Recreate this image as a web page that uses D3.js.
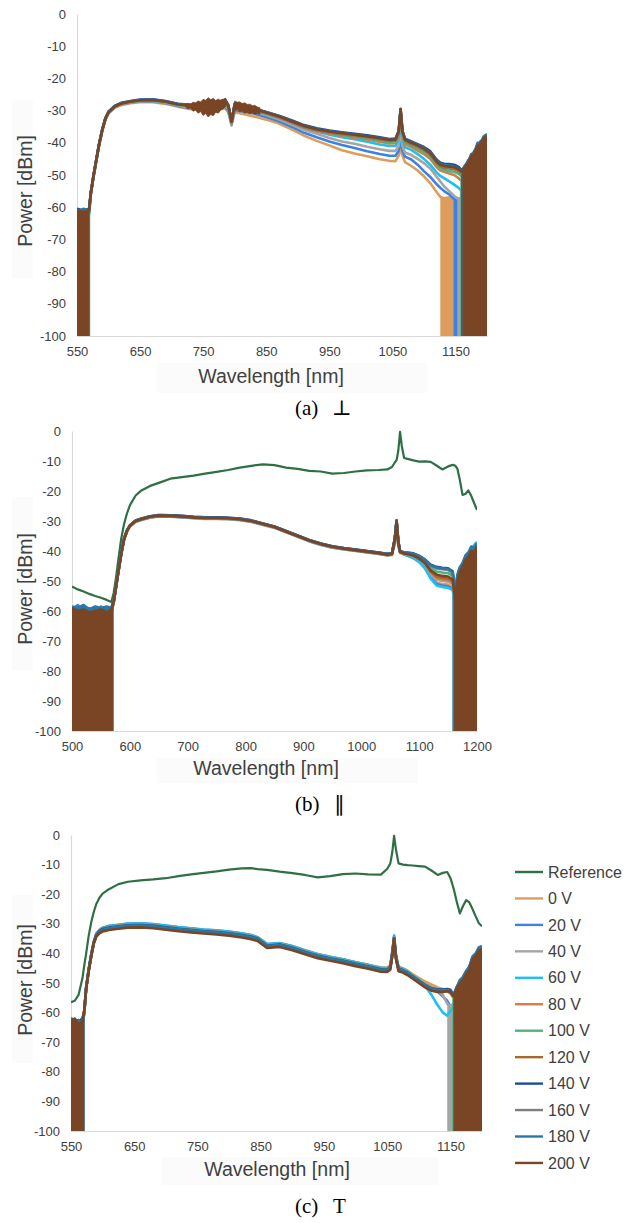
<!DOCTYPE html>
<html>
<head>
<meta charset="utf-8">
<script src="https://cdn.jsdelivr.net/npm/d3@7"></script>
<style>
  body { margin: 0; background: #fff; }
  svg { display: block; }
</style>
</head>
<body>
<svg id="chart" width="634" height="1223"></svg>
<script>
// ---------- series labels and colours ----------
const seriesNames = ["Reference", "0 V", "20 V", "40 V", "60 V", "80 V", "100 V",
                     "120 V", "140 V", "160 V", "180 V", "200 V"];
const seriesColors = ["#2e7044", "#dd9d5c", "#3b82e6", "#a5a5a5", "#1fbff0", "#d27d4c",
                      "#55b27a", "#a8682a", "#1f4c9a", "#7f7f7f", "#2a78a6", "#7a4525"];

// ---------- axis ticks ----------
const yTicks = [0, -10, -20, -30, -40, -50, -60, -70, -80, -90, -100];
const xTicksPerp = [550, 650, 750, 850, 950, 1050, 1150];
const xTicksPar = [500, 600, 700, 800, 900, 1000, 1100, 1200];
const xTicksT = [550, 650, 750, 850, 950, 1050, 1150];

// ---------- (a) perpendicular: wavelength grid [nm] and power [dBm], 0 V … 200 V ----------
const wlPerp = [550,560,569,572,576,580,585,590,595,600,610,620,635,650,670,690,710,730,750,770,785,790,795,800,810,830,850,870,890,910,930,950,970,990,1010,1030,1045,1055,1060,1063,1066,1070,1080,1090,1100,1110,1120,1126,1132,1140,1148,1155,1160,1165,1170,1175,1180,1185,1190,1195,1200];
const powerPerp = [
  [-61.5,-62,-61.5,-55.8,-50.8,-46.3,-40.8,-36.3,-32.9,-30.9,-29.1,-28.3,-27.7,-27.4,-27.4,-27.9,-28.8, -29.6,-29.7,-29.8,-29.3,-30.6,-34.6,-30.5,-30.9, -31.8,-32.8,-34.0,-35.8,-37.8,-39.4,-40.8,-42.3,-43.3,-44.2,-45.1,-45.6,-45.7,-44.0,-41.5,-44.0,-46.0,-47.2,-48.6,-50.4,-52.5,-55.3,-56.8,-57.2,-56.9,-57.1,-57.2,-57.5, -56,-54,-51,-49,-46,-44,-42,-40],
  [-62,-61,-62,-55.6,-50.6,-46.1,-40.6,-36.2,-32.7,-30.7,-28.9,-28.0,-27.5,-27.1,-27.1,-27.6,-28.6, -29.2,-29.2,-29.2,-28.8,-30.1,-34.2,-29.9,-30.2, -30.9,-32.0,-33.3,-35.0,-36.9,-38.3,-39.6,-40.7,-41.6,-42.6,-43.5,-44.0,-44.0,-42.5,-38.5,-42.5,-44.3,-45.2,-46.8,-48.8,-50.6,-52.8,-54.0,-55.0,-56.0,-57.5,-58.5,-58.5, -56,-53,-50,-47,-45,-42.5,-41,-40],
  [-61,-62,-61.5,-55.6,-50.7,-46.2,-40.7,-36.2,-32.7,-30.7,-28.9,-28.0,-27.4,-27.0,-27.0,-27.5,-28.5, -29.0,-29.0,-28.9,-28.4,-29.7,-34.0,-29.4,-29.7, -30.4,-31.4,-32.7,-34.3,-36.0,-37.2,-38.5,-39.6,-40.3,-41.2,-42.0,-42.5,-42.5,-41.0,-36.0,-41.0,-43.0,-43.8,-45.0,-46.3,-48.0,-50.5,-52.0,-53.5,-55.0,-56.5,-57.5,-57.5, -55.5,-52.5,-49.5,-46.5,-44.5,-42,-40.5,-39.5],
  [-61.5,-61,-62,-55.5,-50.6,-46.1,-40.6,-36.1,-32.6,-30.6,-28.8,-27.9,-27.3,-26.9,-26.9,-27.4,-28.3, -28.8,-28.7,-28.6,-28.0,-29.4,-33.8,-29.0,-29.3, -30.0,-31.0,-32.2,-33.8,-35.4,-36.4,-37.5,-38.3,-38.9,-39.7,-40.5,-41.0,-41.0,-39.0,-33.0,-39.0,-41.4,-42.2,-43.5,-45.0,-46.8,-49.2,-50.3,-51.0,-52.0,-53.0,-54.0,-55.0, -54,-51,-48,-45,-43,-40.5,-39,-37.5],
  [-61,-61.5,-61,-55.5,-50.5,-46,-40.5,-36.1,-32.6,-30.6,-28.8,-27.9,-27.3,-26.9,-26.8,-27.3,-28.2, -28.6,-28.5,-28.3,-27.7,-29.1,-33.7,-28.7,-29.0, -29.8,-30.9,-32.2,-33.8,-35.3,-36.4,-37.2,-37.8,-38.4,-39.0,-39.7,-40.2,-40.1,-38.0,-31.0,-38.0,-40.4,-41.3,-42.4,-43.5,-45.0,-47.5,-48.6,-49.0,-49.5,-50.0,-51.0,-52.0, -50,-48,-46,-44,-42,-40,-39,-38.5],
  [-61.5,-61,-62,-56,-51,-46.5,-41,-36.3,-32.7,-30.6,-28.8,-27.9,-27.3,-26.9,-26.8,-27.3,-28.2, -28.6,-28.4,-28.2,-27.5,-29.0,-33.6,-28.5,-28.9, -29.6,-30.7,-31.9,-33.5,-35.0,-36.1,-36.9,-37.5,-38.1,-38.6,-39.3,-39.8,-39.7,-37.5,-30.5,-37.5,-39.8,-40.8,-41.7,-42.8,-44.3,-46.8,-47.9,-48.4,-48.8,-49.0,-49.6,-50.5, -48,-46.5,-44,-43,-40.5,-40,-38,-37.5],
  [-61,-62,-61,-55.5,-50.5,-46,-40.5,-36,-32.5,-30.5,-28.7,-27.8,-27.2,-26.8,-26.7,-27.2,-28.1, -28.5,-28.2,-28.0,-27.2,-28.8,-33.5,-28.3,-28.7, -29.7,-30.8,-32.0,-33.5,-35.1,-36.1,-36.8,-37.3,-37.8,-38.3,-38.9,-39.4,-39.3,-37.0,-30.0,-37.0,-39.4,-40.4,-41.2,-42.2,-43.7,-46.3,-47.3,-47.8,-48.0,-48.2,-48.8,-49.5, -48.5,-47,-45,-44,-42,-41,-39.5,-39],
  [-60.5,-61,-60.5,-55.3,-50.3,-45.8,-40.3,-35.8,-32.3,-30.3,-28.5,-27.6,-27.0,-26.6,-26.5,-27.0,-27.9, -28.2,-27.7,-27.4,-26.6,-28.3,-33.3,-27.8,-28.2, -29.3,-30.4,-31.6,-33.0,-34.5,-35.5,-36.2,-36.7,-37.2,-37.7,-38.3,-38.8,-38.7,-36.3,-29.5,-36.3,-38.7,-39.6,-40.4,-41.3,-42.6,-45.2,-46.2,-46.5,-46.6,-46.8,-47.5,-48.5, -47.5,-45.5,-44.5,-42.5,-41.5,-39.5,-39,-37.5],
  [-61,-61.5,-61.5,-55.5,-50.5,-46,-40.5,-36,-32.5,-30.5,-28.7,-27.8,-27.2,-26.8,-26.7,-27.2,-28.1, -28.4,-28.0,-27.8,-27.0,-28.6,-33.5,-28.2,-28.6, -29.6,-30.8,-32.0,-33.5,-35.0,-36.0,-36.7,-37.2,-37.7,-38.2,-38.8,-39.3,-39.2,-36.8,-29.8,-36.8,-39.2,-40.2,-41.0,-42.0,-43.4,-46.0,-47.0,-47.4,-47.7,-47.9,-48.5,-49.3, -48,-47,-45,-43.5,-42,-40.5,-39.5,-38.5],
  [-61.5,-60.5,-61,-55.4,-50.4,-45.9,-40.4,-35.9,-32.4,-30.4,-28.6,-27.7,-27.1,-26.7,-26.6,-27.1,-28.0, -28.3,-27.9,-27.7,-26.9,-28.5,-33.4,-28.1,-28.5, -29.4,-30.5,-31.7,-33.2,-34.7,-35.7,-36.4,-36.9,-37.4,-37.9,-38.5,-39.0,-38.9,-36.4,-29.5,-36.4,-38.9,-39.9,-40.6,-41.6,-43.0,-45.5,-46.5,-46.9,-47.1,-47.3,-48.0,-48.8, -47,-46,-43.5,-43,-40,-40,-38,-37.3],
  [-61,-61.5,-61,-55.5,-50.5,-46,-40.5,-36,-32.5,-30.5,-28.7,-27.8,-27.2,-26.8,-26.7,-27.2,-28.1, -28.4,-27.8,-27.6,-26.8,-28.5,-33.5,-28.0,-28.4, -29.5,-30.6,-31.8,-33.3,-34.8,-35.8,-36.5,-37.0,-37.5,-38.0,-38.6,-39.1,-39.0,-36.5,-29.5,-36.5,-39.0,-40.0,-40.8,-41.8,-43.2,-45.8,-46.8,-47.2,-47.4,-47.6,-48.2,-49.0, -47.5,-46.5,-44.0,-43.5,-41.0,-40.5,-38.5,-38.0]
];
// wavelengths [nm] below / above which each trace sits in the detector noise floor
const floorEndPerp   = [569.5, 569.5, 569.5, 569.5, 569.5, 571, 569.5, 569.5, 569.5, 569.5, 569.5];
const floorStartPerp = [1126, 1147, 1153, 1157, 1158, 1158, 1159, 1159, 1160, 1160, 1161];
// noise envelope of the 200 V trace (max / min)
const bandWlPerp = [722,726,730,734,738,742,746,750,754,758,762,766,770,774,778,782,786,790,800,804,808,812,816,820,824,828,832,836,840];
const bandHiPerp = [-28.2,-27.8,-28.0,-27.4,-27.6,-27.0,-27.3,-26.5,-26.8,-26.0,-26.6,-26.2,-26.9,-26.4,-27.0,-26.5,-26.2,null,-27.0,-27.4,-27.3,-27.8,-27.6,-28.1,-28.0,-28.5,-28.4,-28.9,-29.1];
const bandLoPerp = [-28.8,-29.5,-29.2,-30.2,-29.8,-30.8,-30.3,-31.5,-30.9,-32.0,-31.2,-31.6,-30.5,-30.8,-29.8,-29.4,-28.6,null,-30.2,-29.6,-30.4,-30.1,-30.8,-30.5,-31.0,-30.7,-31.2,-30.9,-31.2];

// ---------- (b) parallel: Reference, 0 V … 200 V ----------
const wlPar = [500,510,520,530,540,550,560,568,572,576,580,585,590,595,600,610,620,635,650,670,690,710,730,750,770,790,810,830,850,870,890,910,930,950,970,990,1010,1030,1045,1053,1058,1061,1064,1067,1070,1074,1080,1090,1100,1110,1120,1130,1140,1150,1158,1162,1166,1170,1175,1180,1185,1190,1195,1200];
const powerPar = [
  [-51.8,-52.8,-53.5,-54.3,-55.0,-55.6,-56.3,-57.0, -54.0,-49.0,-43.0,-36.0,-31.0,-27.5,-24.8, -21.5,-19.8,-18.3,-17.3,-15.9,-15.4,-14.9,-14.2,-13.6,-13.0, -12.2,-11.6,-11.1,-11.4,-12.2,-12.6,-13.3,-13.5,-14.2,-14.0, -13.5,-13.1,-13.0,-12.8,-12.0,-10.5,-9.7,-6.5,-0.3,-5.0, -9.0,-9.3,-9.8,-10.2,-10.1,-10.3,-11.5,-12.8,-11.8,-11.3, -11.5,-12.5,-16.0,-21.3,-21.0,-19.8,-21.6,-24.0,-26.3],
  [-60.5,-59.5,-61,-60,-59.5,-61,-60,-60.5, -57.3,-52.3,-47.3,-41.3,-36.3,-33.6,-31.9, -30.3,-29.7,-28.9,-28.5,-28.6,-28.8,-29.1,-29.3,-29.3,-29.4, -29.7,-30.3,-31.3,-32.3,-33.8,-35.3,-36.8,-38.0,-38.9,-39.5, -40.0,-40.5,-41.0,-41.5,-41.3,-37.5,-32.0,-38.5,-40.6,-40.8, -41.2,-41.6,-42.4,-43.6,-45.5,-48.5,-50.5,-51.0,-51.2,-52.0, -57,-53,-50,-48,-46,-44,-42,-41.5,-40],
  [-59.5,-58,-60,-59,-61,-58.5,-60,-59, -57.2,-52.2,-47.2,-41.2,-36.2,-33.5,-31.8, -30.2,-29.6,-28.8,-28.4,-28.5,-28.7,-29.0,-29.2,-29.2,-29.3, -29.6,-30.2,-31.2,-32.2,-33.7,-35.2,-36.7,-37.9,-38.8,-39.4, -39.9,-40.4,-40.9,-41.4,-41.2,-37,-31,-38,-40.5,-40.7, -41.1,-41.5,-42.3,-43.5,-45.5,-48.8,-51.0,-51.5,-51.8,-52.5, -58,-54,-51,-48.5,-46,-44,-42,-41,-39.5],
  [-60,-61,-60,-61.5,-60,-60.5,-61,-60, -57.1,-52.1,-47.1,-41.1,-36.1,-33.4,-31.7, -30.1,-29.5,-28.7,-28.3,-28.4,-28.6,-28.9,-29.1,-29.1,-29.2, -29.5,-30.1,-31.1,-32.1,-33.6,-35.1,-36.6,-37.8,-38.7,-39.3, -39.8,-40.3,-40.8,-41.3,-41.1,-36.5,-30.5,-37.5,-40.4,-40.6, -40.9,-41.3,-42.0,-43.2,-44.9,-47.8,-49.5,-50.0,-50.2,-51.0, -57,-52,-49,-47,-45,-43,-41,-41,-39],
  [-59,-60,-58.5,-60,-59.5,-60,-59,-60, -57,-52,-47,-41,-36,-33.3,-31.6, -30.0,-29.4,-28.6,-28.2,-28.3,-28.5,-28.8,-29.0,-29.0,-29.1, -29.4,-30.0,-31.0,-32.0,-33.5,-35.0,-36.5,-37.7,-38.6,-39.2, -39.7,-40.2,-40.7,-41.2,-41.0,-36,-30,-37,-40.3,-40.5, -40.9,-41.4,-42.3,-43.6,-45.8,-49.2,-51.5,-52.0,-52.3,-53.0, -58,-53,-49,-46,-44,-42,-40,-38,-37],
  [-60,-59.5,-60.5,-60,-61,-60,-59.5,-60.5, -57.1,-52.1,-47.1,-41.1,-36.1,-33.4,-31.7, -29.8,-29.2,-28.4,-28.0,-28.1,-28.3,-28.6,-28.8,-28.8,-28.9, -29.2,-29.8,-30.8,-31.8,-33.3,-34.8,-36.3,-37.5,-38.4,-39.0, -39.5,-40.0,-40.5,-41.0,-40.8,-36.2,-30.2,-37.2,-40.1,-40.3, -40.6,-40.9,-41.5,-42.6,-44.3,-47.2,-49.0,-49.5,-49.7,-50.5, -56,-51,-48,-46,-44,-42.5,-40.5,-40.5,-39],
  [-60.5,-60,-61,-59.5,-60.5,-61,-60,-59.5, -57,-52,-47,-41,-36,-33.3,-31.6, -30.0,-29.4,-28.6,-28.2,-28.3,-28.5,-28.8,-29.0,-29.0,-29.1, -29.4,-30.0,-31.0,-32.0,-33.5,-35.0,-36.5,-37.7,-38.6,-39.2, -39.6,-40.1,-40.6,-41.0,-40.8,-35.8,-29.8,-36.8,-40.1,-40.3, -40.6,-40.8,-41.2,-42.1,-43.5,-45.8,-46.8,-47.2,-47.4,-48.3, -55,-49.5,-46.5,-45,-42.5,-41.5,-39.5,-40,-38],
  [-59.5,-60.5,-59.5,-60,-60.5,-59,-60.5,-60, -57,-52,-47,-41,-36,-33.3,-31.6, -30.0,-29.4,-28.6,-28.2,-28.3,-28.5,-28.8,-29.0,-29.0,-29.1, -29.4,-30.0,-31.0,-32.0,-33.5,-35.0,-36.5,-37.7,-38.6,-39.2, -39.7,-40.2,-40.7,-41.2,-41.0,-36,-30,-37,-40.3,-40.5, -40.8,-41.0,-41.5,-42.5,-44.0,-46.8,-48.5,-49.0,-49.2,-50.0, -56,-50,-47,-45.5,-43,-42,-40,-40.5,-38.5],
  [-59,-59.5,-58.5,-60,-59,-59.5,-59,-59, -56.8,-51.8,-46.8,-40.8,-35.8,-33.1,-31.4, -29.8,-29.2,-28.4,-28.0,-28.1,-28.3,-28.6,-28.8,-28.8,-28.9, -29.2,-29.8,-30.8,-31.8,-33.3,-34.8,-36.3,-37.5,-38.4,-39.0, -39.5,-40.0,-40.5,-40.9,-40.7,-35.8,-29.8,-36.8,-40.0,-40.2, -40.4,-40.5,-40.8,-41.6,-42.8,-44.6,-45.3,-45.6,-45.8,-46.8, -54,-48.5,-46,-44.5,-42,-41,-39,-39.5,-37.8],
  [-60,-60,-60.5,-61,-60,-60,-60.5,-61, -57,-52,-47,-41,-36,-33.3,-31.6, -30.0,-29.4,-28.6,-28.2,-28.3,-28.5,-28.8,-29.0,-29.0,-29.1, -29.4,-30.0,-31.0,-32.0,-33.5,-35.0,-36.5,-37.7,-38.6,-39.2, -39.7,-40.2,-40.7,-41.1,-40.9,-36,-30,-37,-40.2,-40.4, -40.6,-40.7,-41.1,-41.9,-43.1,-45.0,-45.8,-46.1,-46.3,-47.3, -55,-49,-46.5,-45,-42.5,-41.5,-39.5,-40,-38],
  [-58.5,-59,-58,-59.5,-58.5,-59,-58.5,-59, -56.9,-51.9,-46.9,-40.9,-35.9,-33.2,-31.5, -29.9,-29.3,-28.5,-28.1,-28.2,-28.4,-28.7,-28.9,-28.9,-29.0, -29.3,-29.9,-30.9,-31.9,-33.4,-34.9,-36.4,-37.6,-38.5,-39.1, -39.6,-40.1,-40.6,-41.0,-40.8,-35.9,-29.9,-36.9,-40.1,-40.3, -40.5,-40.6,-40.9,-41.7,-42.9,-44.8,-45.5,-45.8,-46.0,-47.0, -54,-48,-45.5,-44,-41.5,-40.5,-38.5,-39,-37.5],
  [-59.0,-60.0,-59.5,-60.5,-60.0,-59.5,-60.5,-59.5, -57.0,-52.0,-47.0,-41.0,-36.0,-33.3,-31.6, -30.0,-29.4,-28.6,-28.2,-28.3,-28.5,-28.8,-29.0,-29.0,-29.1, -29.4,-30.0,-31.0,-32.0,-33.5,-35.0,-36.5,-37.7,-38.6,-39.2, -39.7,-40.2,-40.7,-41.2,-41.0,-36.0,-30.0,-37.0,-40.3,-40.5, -40.8,-41.0,-41.5,-42.5,-44.0,-46.5,-47.8,-48.3,-48.5,-49.5, -56.0,-50.0,-47.0,-45.5,-43.0,-42.0,-40.0,-40.5,-38.5]
];
const floorEndPar   = [null, 571, 571, 570.5, 571, 571, 571.5, 571, 571, 571, 571, 571.5];
const floorStartPar = [null, 1157, 1157.5, 1158, 1158, 1159, 1159, 1159.5, 1159.5, 1160, 1160, 1160.5];

// ---------- (c) T: Reference, 0 V … 200 V ----------
const wlT = [550,556,562,568,571,574,578,582,586,590,595,600,610,625,640,660,680,700,720,740,760,780,800,820,835,845,860,880,900,920,940,960,980,1000,1020,1040,1050,1055,1058,1061,1064,1068,1075,1082,1090,1100,1110,1120,1130,1138,1145,1150,1155,1160,1165,1170,1175,1180,1185,1190,1195,1200];
const powerT = [
  [-56.5,-56.0,-54.0,-48.5,-44.0, -40.0,-34.0,-29.5,-26.0,-23.3,-21.2,-19.8, -18.3,-16.6,-15.8,-15.3,-15.0,-14.6,-13.9,-13.3,-12.8,-12.3, -11.7,-11.3,-11.2,-11.5,-11.8,-12.4,-12.9,-13.5,-14.3,-13.9, -13.2,-13.0,-13.3,-13.4,-11.5,-9.6,-6.0,-0.3,-5.0,-9.6, -10.0,-10.2,-10.3,-10.5,-10.7,-12.0,-13.5,-12.8,-12.5,-14.5, -18.0,-22.5,-26.5,-24.0,-22.0,-22.8,-25.0,-27.5,-29.8,-30.8],
  [-63.5,-62.5,-64.5,-63.5,-60.5, -51.5,-45.5,-40.5,-36.3,-33.6,-32.4,-31.7, -31.1,-30.7,-30.3,-30.2,-30.5,-31.0,-31.5,-31.9,-32.3,-32.6, -33.0,-33.6,-34.2,-34.8,-37.2,-36.8,-37.9,-39.3,-40.6,-41.5, -42.2,-43.0,-43.8,-44.7,-44.8,-44.0,-40.0,-36.0,-41.0,-44.5, -45.0,-45.8,-47.0,-48.3,-49.5,-50.5,-51.5,-52.0,-52.5,-53.5, -55,-54,-52,-50,-48,-46,-44,-42,-40.5,-39.5],
  [-62.5,-63.5,-63,-64.5,-60, -51.3,-45.3,-40.3,-36.0,-33.3,-32.0,-31.3, -30.7,-30.3,-29.9,-29.8,-30.1,-30.6,-31.1,-31.5,-31.9,-32.2, -32.6,-33.2,-33.8,-34.5,-36.8,-36.5,-37.5,-38.9,-40.2,-41.1, -42.0,-43.0,-43.9,-45.0,-45.2,-44.3,-39.5,-34.0,-40.5,-44.9, -45.4,-46.3,-47.6,-49.2,-50.8,-52.0,-53.0,-54.5,-56.0,-58.0, -57,-55,-52.5,-50.5,-48.5,-46.5,-44,-42,-40.5,-39.5],
  [-63,-64,-62.5,-63,-59.5, -51.5,-45.5,-40.5,-36.2,-33.5,-32.2,-31.5, -30.9,-30.5,-30.1,-30.0,-30.3,-30.8,-31.3,-31.7,-32.1,-32.4, -32.8,-33.4,-34.0,-34.7,-37.0,-36.7,-37.7,-39.1,-40.4,-41.3, -42.1,-43.1,-44.0,-45.0,-45.1,-44.3,-40.0,-34.5,-41.0,-44.8, -45.3,-46.1,-47.3,-48.8,-50.3,-51.5,-52.5,-54.0,-57.0,-58.0, -57,-55,-52,-50,-48,-46,-43.5,-42,-40,-39],
  [-62,-63,-64,-62.5,-60, -51.4,-45.4,-40.4,-36.1,-33.4,-32.1,-31.4, -30.8,-30.4,-30.0,-29.9,-30.2,-30.7,-31.2,-31.6,-32.0,-32.3, -32.7,-33.3,-33.9,-34.6,-36.9,-36.6,-37.6,-39.0,-40.3,-41.2, -42.0,-43.0,-43.9,-44.9,-45.0,-44.2,-39.8,-34.3,-40.8,-44.7, -45.2,-46.0,-47.3,-49.0,-51.0,-54.0,-57.5,-60.0,-61.0,-59.5, -58,-54,-51,-49,-47,-45,-43,-41,-39,-38.5],
  [-63.5,-63,-63.5,-64,-60.5, -51.6,-45.6,-40.6,-36.3,-33.6,-32.3,-31.6, -31.1,-30.7,-30.3,-30.2,-30.5,-31.0,-31.5,-31.9,-32.3,-32.6, -33.0,-33.6,-34.2,-34.8,-37.2,-36.8,-37.9,-39.3,-40.6,-41.5, -42.3,-43.3,-44.2,-45.2,-45.3,-44.5,-40.2,-34.8,-41.2,-45.0, -45.5,-46.3,-47.5,-49.0,-50.5,-51.6,-52.3,-52.6,-52.8,-53.5, -55,-52,-50,-48.5,-46.5,-45,-42,-41,-39,-38.5],
  [-62.5,-64,-63,-63,-60, -51.7,-45.7,-40.7,-36.4,-33.7,-32.4,-31.7, -31.2,-30.8,-30.4,-30.3,-30.6,-31.1,-31.6,-32.0,-32.4,-32.7, -33.1,-33.7,-34.3,-34.9,-37.3,-36.9,-38.0,-39.4,-40.7,-41.6, -42.4,-43.4,-44.3,-45.3,-45.4,-44.6,-40.3,-34.8,-41.3,-45.1, -45.6,-46.4,-47.6,-49.1,-50.6,-51.7,-52.2,-52.3,-52.3,-52.8, -54.5,-51.5,-49.5,-48.5,-46.5,-45,-41.5,-40.5,-38.5,-38],
  [-63,-62.5,-64,-63.5,-60, -51.8,-45.8,-40.8,-36.6,-34.0,-32.7,-32.0, -31.5,-31.1,-30.7,-30.6,-30.9,-31.4,-31.9,-32.3,-32.7,-33.0, -33.4,-34.0,-34.6,-35.2,-37.6,-37.2,-38.3,-39.7,-41.0,-41.9, -42.7,-43.7,-44.6,-45.6,-45.7,-44.9,-40.5,-34.9,-41.6,-45.4, -45.9,-46.7,-47.9,-49.4,-50.9,-52.0,-52.5,-52.6,-52.5,-53.0, -54.5,-52,-50,-49,-47,-45.5,-42,-41,-39,-38.5],
  [-62,-62.5,-63,-62,-59.5, -51.6,-45.6,-40.6,-36.4,-33.8,-32.5,-31.8, -31.3,-30.9,-30.5,-30.4,-30.7,-31.2,-31.7,-32.1,-32.5,-32.8, -33.2,-33.8,-34.4,-35.0,-37.4,-37.0,-38.1,-39.5,-40.8,-41.7, -42.5,-43.5,-44.4,-45.4,-45.5,-44.7,-40.4,-34.9,-41.4,-45.2, -45.7,-46.5,-47.7,-49.2,-50.7,-51.8,-52.2,-52.2,-52.0,-52.3, -54,-51.5,-49.5,-48,-46,-44.5,-41.5,-40.5,-38.5,-38],
  [-63.5,-62.5,-63.5,-63,-60, -51.9,-45.9,-40.9,-36.8,-34.3,-33.0,-32.3, -31.8,-31.4,-31.0,-30.9,-31.2,-31.7,-32.2,-32.6,-33.0,-33.3, -33.7,-34.3,-34.9,-35.5,-37.9,-37.5,-38.6,-40.0,-41.3,-42.2, -43.0,-44.0,-44.9,-45.9,-46.0,-45.2,-40.8,-35.0,-41.8,-45.7, -46.2,-47.0,-48.2,-49.7,-51.2,-52.3,-52.7,-52.8,-52.6,-53.0, -54.5,-52,-50,-49,-47,-45.5,-42,-41,-39,-38.5],
  [-62,-63,-62.5,-63.5,-59.5, -51.7,-45.7,-40.7,-36.5,-34.0,-32.7,-32.0, -31.4,-31.0,-30.6,-30.5,-30.8,-31.3,-31.8,-32.2,-32.6,-32.9, -33.3,-33.9,-34.5,-35.1,-37.5,-37.1,-38.2,-39.6,-40.9,-41.8, -42.6,-43.6,-44.5,-45.5,-45.6,-44.8,-40.5,-35.0,-41.5,-45.3, -45.8,-46.6,-47.8,-49.3,-50.8,-51.9,-52.4,-52.5,-52.3,-52.8, -54,-51.5,-49,-48,-46,-44.5,-41,-40,-38,-37.5],
  [-63,-62,-64,-63,-59, -52,-46,-41,-36.5,-34.3,-33.2,-32.6, -32.1,-31.7,-31.3,-31.2,-31.5,-32.0,-32.5,-32.9,-33.3,-33.6, -34.0,-34.6,-35.2,-35.8,-38.2,-37.8,-38.9,-40.3,-41.6,-42.5, -43.3,-44.3,-45.2,-46.2,-46.3,-45.5,-41.0,-35.0,-42.0,-46.0, -46.5,-47.3,-48.5,-50.0,-51.5,-52.6,-53.0,-53.0,-52.8,-53.0, -54.5,-52,-50,-49,-47,-45.5,-42,-41,-39,-38.5]
];
const floorEndT   = [null, 571, 571, 570.5, 571, 571, 571, 571, 571, 571, 571, 570.5];
const floorStartT = [null, 1154, 1154, 1145, 1153.5, 1154, 1153, 1155, 1155, 1155, 1154.5, 1155.5];

// ---------- drawing ----------
const svg = d3.select("#chart");
const tickFont = "Liberation Sans, Arial, sans-serif";
const serifFont = "Liberation Serif, Times New Roman, DejaVu Serif, serif";
const textColor = "#404040";
const axisColor = "#d9d9d9";
const yFloor = -100;

function valueAt(grid, vals, w) {
  const i = d3.bisectLeft(grid, w);
  if (i <= 0) return vals[0];
  if (i >= grid.length) return vals[grid.length - 1];
  const t = (w - grid[i - 1]) / (grid[i] - grid[i - 1]);
  return vals[i - 1] + t * (vals[i] - vals[i - 1]);
}

function segment(grid, vals, a, b) {
  const pts = [[a, valueAt(grid, vals, a)]];
  grid.forEach((w, k) => { if (w > a && w < b) pts.push([w, vals[k]]); });
  pts.push([b, valueAt(grid, vals, b)]);
  return pts;
}

function drawPanel(p, idx) {
  const x = d3.scaleLinear().domain([p.xMin, 1200]).range([p.left, p.right]);
  const y = d3.scaleLinear().domain([-100, 0]).range([p.bottom, p.top]);
  const g = svg.append("g");

  // title backdrops
  g.append("rect").attr("x", p.yBox[0]).attr("y", p.yBox[1]).attr("width", p.yBox[2]).attr("height", p.yBox[3]).attr("fill", "#fbfbfb");
  g.append("rect").attr("x", p.xBox[0]).attr("y", p.xBox[1]).attr("width", p.xBox[2]).attr("height", p.xBox[3]).attr("fill", "#fbfbfb");

  // axes
  const ya = g.append("g").attr("transform", `translate(${p.left},0)`)
    .call(d3.axisLeft(y).tickValues(yTicks).tickFormat(d => String(d)).tickSize(0).tickSizeOuter(0).tickPadding(11));
  const xa = g.append("g").attr("transform", `translate(0,${p.bottom})`)
    .call(d3.axisBottom(x).tickValues(p.xTicks).tickFormat(d => String(d)).tickSize(0).tickSizeOuter(0).tickPadding(11));
  [ya, xa].forEach(a => {
    a.select(".domain").attr("stroke", axisColor).attr("stroke-width", 1.2);
    a.selectAll("text").attr("font-family", tickFont).attr("font-size", 13).attr("fill", textColor);
  });

  // axis titles
  g.append("text").attr("transform", `translate(${p.yTitle[0]},${p.yTitle[1]}) rotate(-90)`)
    .attr("text-anchor", "middle").attr("font-family", tickFont).attr("font-size", 19.5)
    .attr("fill", textColor).text("Power [dBm]");
  g.append("text").attr("x", p.xTitle[0]).attr("y", p.xTitle[1])
    .attr("text-anchor", "middle").attr("font-family", tickFont).attr("font-size", 19.5)
    .attr("fill", textColor).text("Wavelength [nm]");

  // plotting area
  const clipId = "clip" + idx;
  svg.append("clipPath").attr("id", clipId).append("rect")
    .attr("x", p.left).attr("y", p.top - 4).attr("width", p.right - p.left).attr("height", p.bottom - p.top + 4);
  const plot = g.append("g").attr("clip-path", `url(#${clipId})`);

  const line = d3.line().x(d => x(d[0])).y(d => y(d[1]));
  const area = d3.area().x(d => x(d[0])).y0(y(yFloor)).y1(d => y(d[1]));

  p.rows.forEach((vals, k) => {
    const si = p.seriesIndex[k];
    const col = seriesColors[si];
    const pts = p.grid.map((w, j) => [w, vals[j]]);
    // portions lost in the detector noise floor
    if (p.floorEnd[k] != null) {
      plot.append("path").attr("d", area(segment(p.grid, vals, p.grid[0], p.floorEnd[k]))).attr("fill", col);
    }
    if (p.floorStart[k] != null) {
      plot.append("path").attr("d", area(segment(p.grid, vals, p.floorStart[k], 1200))).attr("fill", col);
    }
    if (p.band && k === p.rows.length - 1) {
      const bd = p.band.wl.map((w, j) => ({ w, hi: p.band.hi[j], lo: p.band.lo[j] }));
      plot.append("path")
        .attr("d", d3.area().defined(d => d.hi != null).x(d => x(d.w)).y0(d => y(d.lo)).y1(d => y(d.hi))(bd))
        .attr("fill", col).attr("stroke", col).attr("stroke-width", 0.8);
    }
    plot.append("path").attr("d", line(pts)).attr("fill", "none")
      .attr("stroke", col).attr("stroke-width", si === 0 ? 2.2 : 2.6)
      .attr("stroke-linejoin", "round");
  });

  // caption
  g.append("text").attr("x", p.caption[0]).attr("y", p.caption[1])
    .attr("font-family", serifFont).attr("font-size", 21).attr("fill", "#000").text(p.caption[2]);
  g.append("text").attr("x", p.caption[3]).attr("y", p.caption[1])
    .attr("font-family", p.caption[5] || serifFont).attr("font-size", 21).attr("fill", "#000").text(p.caption[4]);
}

const voltageIdx = d3.range(1, 12);
const allIdx = d3.range(0, 12);

drawPanel({
  grid: wlPerp, rows: powerPerp, seriesIndex: voltageIdx,
  floorEnd: floorEndPerp, floorStart: floorStartPerp,
  band: { wl: bandWlPerp, hi: bandHiPerp, lo: bandLoPerp },
  xMin: 550, xTicks: xTicksPerp,
  left: 77, right: 487, top: 14, bottom: 336,
  yTitle: [32, 191], yBox: [12, 100, 21, 178],
  xTitle: [271, 383], xBox: [157, 363, 270, 30],
  caption: [295, 415, "(a)", 332, "\u22A5"]
}, 0);

drawPanel({
  grid: wlPar, rows: powerPar, seriesIndex: allIdx,
  floorEnd: floorEndPar, floorStart: floorStartPar,
  xMin: 500, xTicks: xTicksPar,
  left: 72, right: 477, top: 431, bottom: 731,
  yTitle: [32, 589], yBox: [12, 497, 21, 173],
  xTitle: [266, 775], xBox: [157, 758, 261, 25],
  caption: [295, 811, "(b)", 334, "\u2225", "DejaVu Sans, sans-serif"]
}, 1);

drawPanel({
  grid: wlT, rows: powerT, seriesIndex: allIdx,
  floorEnd: floorEndT, floorStart: floorStartT,
  xMin: 550, xTicks: xTicksT,
  left: 71, right: 482, top: 835, bottom: 1131,
  yTitle: [32, 980], yBox: [12, 895, 21, 168],
  xTitle: [277, 1176], xBox: [162, 1157, 276, 28],
  caption: [295, 1213, "(c)", 333, "T"]
}, 2);

// legend
const legend = svg.append("g");
seriesNames.forEach((name, i) => {
  const cy = 872 + i * 26.45;
  legend.append("line").attr("x1", 515).attr("x2", 543).attr("y1", cy).attr("y2", cy)
    .attr("stroke", seriesColors[i]).attr("stroke-width", 2.4);
  legend.append("text").attr("x", 548).attr("y", cy).attr("dy", "0.35em")
    .attr("font-family", tickFont).attr("font-size", 16).attr("fill", textColor).text(name);
});
</script>
</body>
</html>
